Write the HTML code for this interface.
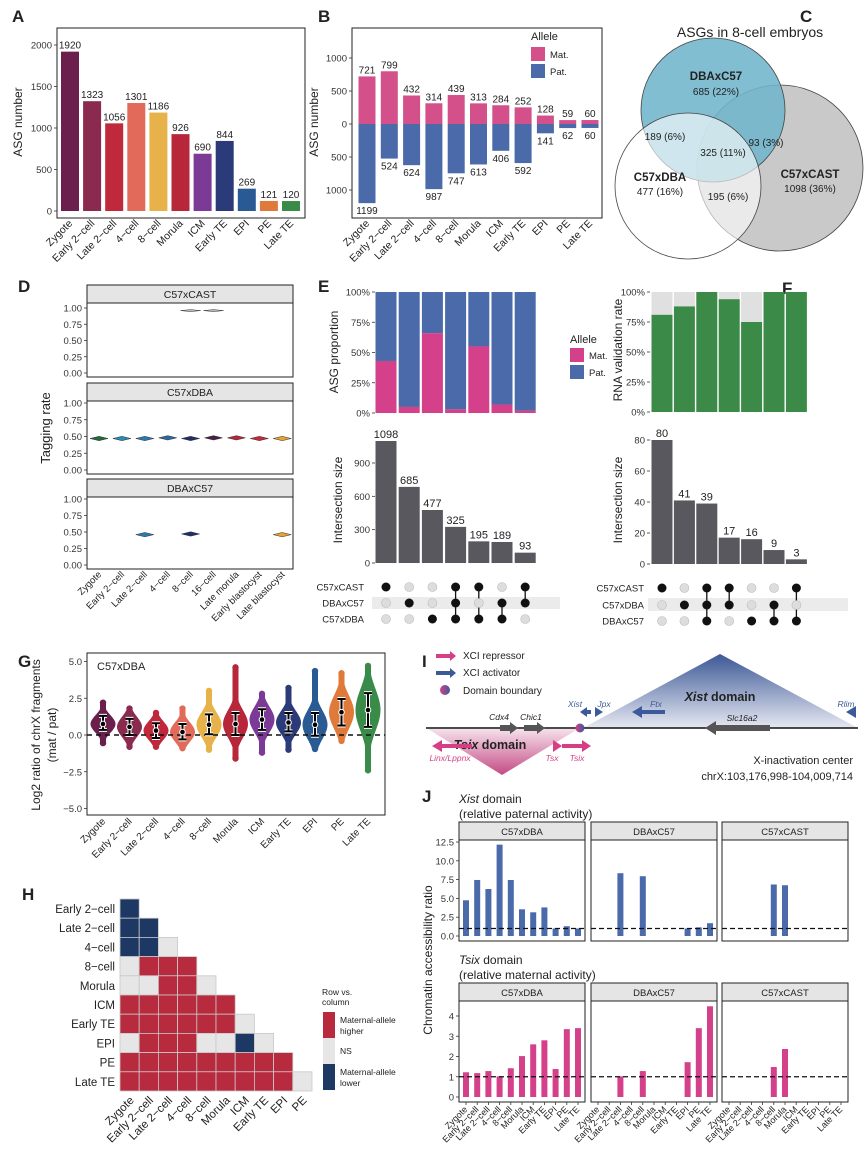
<!DOCTYPE html>
<html><head><meta charset="utf-8"><style>
html,body{margin:0;padding:0;background:#fff;}
svg{display:block;font-family:"Liberation Sans",sans-serif;}
</style></head><body>
<svg id="fig" width="865" height="1169" viewBox="0 0 865 1169" xmlns="http://www.w3.org/2000/svg">
<g font-weight="bold" font-size="17" fill="#222">
<text x="12" y="22">A</text>
<text x="318" y="22">B</text>
<text x="800" y="22">C</text>
<text x="18" y="292">D</text>
<text x="318" y="292">E</text>
<text x="782" y="294">F</text>
<text x="18" y="667">G</text>
<text x="22" y="900">H</text>
<text x="422" y="667">I</text>
<text x="422" y="802">J</text>
</g>
<!-- Venn C -->
<g>
<text x="750" y="37" font-size="14" text-anchor="middle" fill="#222">ASGs in 8-cell embryos</text>
<circle cx="780" cy="168" r="83" fill="#c9c9c9" stroke="#444" stroke-width="0.8"/>
<circle cx="713" cy="110" r="72" fill="#6fb5cb" fill-opacity="0.88" stroke="#444" stroke-width="0.8"/>
<circle cx="688" cy="186" r="73" fill="#ffffff" fill-opacity="0.62" stroke="#444" stroke-width="0.8"/>
<g font-size="10" fill="#222" text-anchor="middle">
<text x="716" y="80" font-weight="bold" font-size="11.5">DBAxC57</text><text x="716" y="95">685 (22%)</text>
<text x="810" y="178" font-weight="bold" font-size="11.5">C57xCAST</text><text x="810" y="192">1098 (36%)</text>
<text x="660" y="181" font-weight="bold" font-size="11.5">C57xDBA</text><text x="660" y="195">477 (16%)</text>
<text x="665" y="140">189 (6%)</text><text x="766" y="146">93 (3%)</text>
<text x="723" y="156">325 (11%)</text><text x="728" y="200">195 (6%)</text>
</g></g>
<!-- Panel I diagram -->
<g>
<defs>
<linearGradient id="gb" x1="0" y1="0" x2="0" y2="1"><stop offset="0" stop-color="#3c5896"/><stop offset="1" stop-color="#e6e8f2"/></linearGradient>
<linearGradient id="gp" x1="0" y1="0" x2="0" y2="1"><stop offset="0" stop-color="#f5e0ea"/><stop offset="1" stop-color="#c44a84"/></linearGradient>
<linearGradient id="gc" x1="0" y1="0" x2="1" y2="0"><stop offset="0" stop-color="#d63f86"/><stop offset="1" stop-color="#3c5a9a"/></linearGradient>
</defs>
<polygon points="583,728 720,654 858,728" fill="url(#gb)"/>
<polygon points="428,729 578,729 502,775" fill="url(#gp)"/>
<line x1="426" y1="728" x2="858" y2="728" stroke="#111" stroke-width="1.5"/>
<text x="720" y="701" font-size="12.5" font-weight="bold" text-anchor="middle" fill="#222"><tspan font-style="italic">Xist</tspan> domain</text>
<text x="490" y="749" font-size="12.5" font-weight="bold" text-anchor="middle" fill="#222"><tspan font-style="italic">Tsix</tspan> domain</text>
<g fill="#3c5a9a">
<polygon points="436,671 450,671 450,668 456,673 450,678 450,675 436,675"/>
<polygon points="580,712 587,707 587,710 591,710 591,714 587,714 587,717"/>
<polygon points="595,707 603,712 595,717"/>
<polygon points="632,712 642,706 642,710 665,710 665,714 642,714 642,718"/>
<polygon points="846,712 856,706 856,718"/>
</g>
<polygon points="436,654 450,654 450,651 456,656 450,661 450,658 436,658" fill="#d63f86"/>
<circle cx="445" cy="690" r="5" fill="url(#gc)"/>
<g font-size="10" fill="#222"><text x="463" y="659">XCI repressor</text><text x="463" y="676">XCI activator</text><text x="463" y="694">Domain boundary</text></g>
<g fill="#555">
<polygon points="500,725 510,725 510,722 518,728 510,734 510,731 500,731"/>
<polygon points="524,725 537,725 537,722 545,728 537,734 537,731 524,731"/>
<polygon points="705,728 716,721 716,725 770,725 770,731 716,731 716,735"/>
</g>
<g fill="#d63f86">
<polygon points="432,746 442,740 442,744 472,744 472,748 442,748 442,752"/>
<polygon points="553,740 562,746 553,752"/>
<polygon points="562,744 582,744 582,740 591,746 582,752 582,748 562,748"/>
</g>
<circle cx="580" cy="728" r="4.5" fill="url(#gc)"/>
<g font-size="8.5" font-style="italic">
<text x="499" y="720" fill="#222" text-anchor="middle">Cdx4</text><text x="531" y="720" fill="#222" text-anchor="middle">Chic1</text>
<text x="742" y="721" fill="#222" text-anchor="middle">Slc16a2</text>
<text x="575" y="707" fill="#3c5a9a" text-anchor="middle">Xist</text><text x="604" y="707" fill="#3c5a9a" text-anchor="middle">Jpx</text>
<text x="656" y="707" fill="#3c5a9a" text-anchor="middle">Ftx</text><text x="846" y="707" fill="#3c5a9a" text-anchor="middle">Rlim</text>
<text x="450" y="761" fill="#d63f86" text-anchor="middle">Linx/Lppnx</text><text x="552" y="761" fill="#d63f86" text-anchor="middle">Tsx</text>
<text x="577" y="761" fill="#d63f86" text-anchor="middle">Tsix</text>
</g>
<g font-size="11" fill="#222" text-anchor="end"><text x="853" y="764">X-inactivation center</text><text x="853" y="780">chrX:103,176,998-104,009,714</text></g>
</g>
<g font-size="12" fill="#222">
<text x="459" y="803"><tspan font-style="italic">Xist</tspan> domain</text>
<text x="459" y="818">(relative paternal activity)</text>
<text x="459" y="964"><tspan font-style="italic">Tsix</tspan> domain</text>
<text x="459" y="979">(relative maternal activity)</text>
</g>
</svg>
<script>
const NS='http://www.w3.org/2000/svg';
const svg=document.getElementById('fig');
function mk(tag,a,txt){const e=document.createElementNS(NS,tag);for(const k in a)e.setAttribute(k,a[k]);if(txt!=null)e.textContent=txt;svg.appendChild(e);return e;}
const TICK='#333';
function yTicks(x,vals,labs,yf,name){vals.forEach((v,i)=>{const y=yf(v);
const t=mk('line',{x1:x-3,y1:y,x2:x,y2:y,stroke:TICK,'stroke-width':0.8});


const l=mk('text',{x:x-5,y:y+3.5,'font-size':9.5,'text-anchor':'end',fill:'#333'},labs[i]);

});}
function xLabels(xs,labs,y,fs,name){labs.forEach((s,i)=>{const x=xs[i]+3;
const l=mk('text',{x:x,y:y,'font-size':fs,'text-anchor':'end',fill:'#222',transform:`rotate(-45 ${x} ${y})`},s);

});}
function box(x,y,w,h,name){const r=mk('rect',{x:x,y:y,width:w,height:h,fill:'none',stroke:'#222','stroke-width':1});

}
function ytitle(x,y,s,fs,name){const t=mk('text',{x:x,y:y,'font-size':fs,'text-anchor':'middle',fill:'#222',transform:`rotate(-90 ${x} ${y})`},s);

}

// ===== Panel A data
const stagesA=['Zygote','Early 2\u2212cell','Late 2\u2212cell','4\u2212cell','8\u2212cell','Morula','ICM','Early TE','EPI','PE','Late TE'];
const asgCounts=[1920,1323,1056,1301,1186,926,690,844,269,121,120];
const stageColors=['#6a1f4c','#8a2a4f','#c0283c','#e26a5a','#e8b24a','#b8263a','#7b3a96','#2b3a78','#2a5a94','#e07a3a','#3a8a4a'];
const aTicks=[0,500,1000,1500,2000];
// ===== Panel B data
const matCounts=[721,799,432,314,439,313,284,252,128,59,60];
const patCounts=[1199,524,624,987,747,613,406,592,141,62,60];
const bTicks=[-1000,-500,0,500,1000];
const bTickLabels=['1000','500','0','500','1000'];
// ===== Panel D data
const stagesD=['Zygote','Early 2\u2212cell','Late 2\u2212cell','4\u2212cell','8\u2212cell','16\u2212cell','Late morula','Early blastocyst','Late blastocyst'];
const dFacets=['C57xCAST','C57xDBA','DBAxC57'];
const tagCAST=[null,null,null,null,0.96,0.96,null,null,null];
const tagC57xDBA=[0.47,0.47,0.47,0.48,0.47,0.48,0.48,0.47,0.47];
const tagDBAxC57=[null,null,0.46,null,0.47,null,null,null,0.46];
const dColors=['#1f6b3a','#2a8cb5','#2a7ab0','#2a6aa0','#1e2e6a','#4a1e4a','#b8263a','#c8283c','#e8a030'];
const dTicks=[0,0.25,0.5,0.75,1];
const dTickLabels=['0.00','0.25','0.50','0.75','1.00'];
// ===== Panel E data
const eSizes=[1098,685,477,325,195,189,93];
const eMatFrac=[0.43,0.05,0.66,0.03,0.55,0.07,0.02];
const eSets=['C57xCAST','DBAxC57','C57xDBA'];
const eMembership=[[1,0,0],[0,1,0],[0,0,1],[1,1,1],[1,0,1],[0,1,1],[1,1,0]];
const eTicks=[0,300,600,900];
const pctTicks=[0,0.25,0.5,0.75,1];
const pctLabels=['0%','25%','50%','75%','100%'];
// ===== Panel F data
const fSizes=[80,41,39,17,16,9,3];
const fValidFrac=[0.81,0.88,1.0,0.94,0.75,1.0,1.0];
const fSets=['C57xCAST','C57xDBA','DBAxC57'];
const fMembership=[[1,0,0],[0,1,0],[1,1,1],[1,1,0],[0,0,1],[0,1,1],[1,0,1]];
const fTicks=[0,20,40,60,80];
// ===== Panel G data
const gMean=[0.75,0.55,0.3,0.2,0.7,0.75,1.05,0.85,0.7,1.55,1.7];
const gLow=[0.35,0.0,-0.2,-0.3,0.05,0.0,0.35,0.25,-0.05,0.65,0.55];
const gHigh=[1.3,1.1,0.8,0.75,1.4,1.5,1.75,1.5,1.5,2.45,2.85];
const gMin=[-0.55,-0.8,-0.8,-0.9,-1.0,-1.6,-1.2,-1.0,-0.95,-0.4,-2.4];
const gMax=[2.2,1.8,1.5,1.8,3.0,4.6,2.8,3.2,4.35,4.2,4.7];
const gTicks=[-5,-2.5,0,2.5,5];
const gTickLabels=['\u22125.0','\u22122.5','0.0','2.5','5.0'];
// ===== Panel H data
const hRows=['Early 2\u2212cell','Late 2\u2212cell','4\u2212cell','8\u2212cell','Morula','ICM','Early TE','EPI','PE','Late TE'];
const hCols=['Zygote','Early 2\u2212cell','Late 2\u2212cell','4\u2212cell','8\u2212cell','Morula','ICM','Early TE','EPI','PE'];
const hMatrix=['B','BB','BBN','NRRR','NNRRN','RRRRRR','RRRRRRN','NRRRNNBN','RRRRRRRRR','RRRRRRRRRN'];
// ===== Panel J data
const jFacets=['C57xDBA','DBAxC57','C57xCAST'];
const xistC57xDBA=[4.75,7.45,6.25,12.15,7.45,3.55,3.15,3.8,1.0,1.3,1.0];
const xistDBAxC57=[null,null,8.35,null,7.95,null,null,null,1.0,1.15,1.7];
const xistC57xCAST=[null,null,null,null,6.85,6.75,null,null,null,null,null];
const tsixC57xDBA=[1.22,1.18,1.28,1.02,1.42,2.02,2.6,2.8,1.38,3.35,3.4];
const tsixDBAxC57=[null,null,1.02,null,1.28,null,null,null,1.72,3.4,4.48];
const tsixC57xCAST=[null,null,null,null,1.48,2.37,null,null,null,null,null];
const jXistTicks=[0,2.5,5,7.5,10,12.5];
const jXistLabels=['0.0','2.5','5.0','7.5','10.0','12.5'];
const jTsixTicks=[0,1,2,3,4];

// ---------- Panel A
{const yA=v=>211-v*(166/2000);const xA=i=>70+i*22.1;
box(57,28,248,190,'panel-a-frame');
yTicks(57,aTicks,aTicks.map(String),yA,'a-y');
ytitle(22,122,'ASG number',12,'a-y-title');
asgCounts.forEach((v,i)=>{const r=mk('rect',{x:xA(i)-9,y:yA(v),width:18,height:yA(0)-yA(v),fill:stageColors[i]});


const t=mk('text',{x:xA(i),y:yA(v)-3,'font-size':10,'text-anchor':'middle',fill:'#222'},String(v));

});
xLabels(stagesA.map((s,i)=>xA(i)),stagesA,224,10.5,'a-x');}
// ---------- Panel B
{const yB=v=>124-v*(66/1000);const xB=i=>367+i*22.3;
box(352,28,250,190,'panel-b-frame');
yTicks(352,bTicks,bTickLabels,yB,'b-y');
ytitle(318,122,'ASG number',12,'b-y-title');
matCounts.forEach((v,i)=>{const r=mk('rect',{x:xB(i)-8.5,y:yB(v),width:17,height:yB(0)-yB(v),fill:'#d4508b'});


const t=mk('text',{x:xB(i),y:yB(v)-3,'font-size':10,'text-anchor':'middle',fill:'#222'},String(v));

});
patCounts.forEach((v,i)=>{const r=mk('rect',{x:xB(i)-8.5,y:yB(0),width:17,height:yB(-v)-yB(0),fill:'#4a6aaa'});


const t=mk('text',{x:xB(i),y:yB(-v)+11,'font-size':10,'text-anchor':'middle',fill:'#222'},String(v));

});
xLabels(stagesA.map((s,i)=>xB(i)),stagesA,224,10.5,'b-x');
const lg=mk('text',{x:531,y:40,'font-size':11,fill:'#222'},'Allele');


[['Mat.','#d4508b'],['Pat.','#4a6aaa']].forEach((p,i)=>{const r=mk('rect',{x:531,y:47+i*17,width:14,height:14,fill:p[1]});


const t=mk('text',{x:550,y:58+i*17,'font-size':9.5,fill:'#222'},p[0]);

});}
// ---------- Panel D
{const xD=i=>99+i*22.9;const tops=[[285,308,373],[383,403,470],[479,499,565]];
const series=[tagCAST,tagC57xDBA,tagDBAxC57];
ytitle(50,428,'Tagging rate',13,'d-y-title');
dFacets.forEach((f,k)=>{const [st,y1,y0]=tops[k];const yD=v=>y0-v*(y0-y1);
const s=mk('rect',{x:87,y:st,width:206,height:18,fill:'#e5e5e5',stroke:'#222','stroke-width':1});


const st2=mk('text',{x:190,y:st+13,'font-size':10.5,'text-anchor':'middle',fill:'#222'},f);


box(87,st+18,206,y0-st-14,'d-facet-frame');
yTicks(87,dTicks,dTickLabels,yD,'d-y');
series[k].forEach((v,i)=>{if(v==null)return;const y=yD(v),x=xD(i);const w=k==0?10:9,h=k==0?1:2.2;
const p=mk('polygon',{points:`${x-w},${y} ${x},${y-h} ${x+w},${y} ${x},${y+h}`,fill:k==0?'#bbb':dColors[i],stroke:'#333','stroke-width':0.5});

});});
xLabels(stagesD.map((s,i)=>xD(i)),stagesD,575,9.5,'d-x');}
// ---------- Panel E
{const xE=i=>386+i*23.2;const yP=v=>413-v*121;const yS=v=>563-v*(100/900);
yTicks(375,pctTicks,pctLabels,yP,'e-top-y');
ytitle(338,352,'ASG proportion',12,'e-top-y-title');
eMatFrac.forEach((m,i)=>{const r1=mk('rect',{x:xE(i)-10.5,y:yP(1),width:21,height:yP(m)-yP(1),fill:'#4a6aaa'});


const r2=mk('rect',{x:xE(i)-10.5,y:yP(m),width:21,height:yP(0)-yP(m),fill:'#d4408a'});

});
const lg=mk('text',{x:570,y:343,'font-size':11,fill:'#222'},'Allele');


[['Mat.','#d4408a'],['Pat.','#4a6aaa']].forEach((p,i)=>{const r=mk('rect',{x:570,y:348+i*17,width:14,height:14,fill:p[1]});


const t=mk('text',{x:589,y:359+i*17,'font-size':9.5,fill:'#222'},p[0]);

});
yTicks(375,eTicks,eTicks.map(String),yS,'e-bottom-y');
ytitle(342,500,'Intersection size',12,'e-bottom-y-title');
eSizes.forEach((v,i)=>{const r=mk('rect',{x:xE(i)-10.5,y:yS(v),width:21,height:yS(0)-yS(v),fill:'#58585e'});


const t=mk('text',{x:xE(i),y:yS(v)-3,'font-size':11,'text-anchor':'middle',fill:'#222'},String(v));

});
const rowsY=[587,603,619];
const band=mk('rect',{x:372,y:597,width:188,height:12,fill:'#ebebeb'});


eSets.forEach((s,j)=>{const t=mk('text',{x:364,y:rowsY[j]+3.5,'font-size':9.5,'text-anchor':'end',fill:'#222'},s);

});
eMembership.forEach((m,i)=>{const on=rowsY.filter((y,j)=>m[j]);if(on.length>1){const l=mk('line',{x1:xE(i),y1:on[0],x2:xE(i),y2:on[on.length-1],stroke:'#111','stroke-width':1.3});

}
m.forEach((b,j)=>{const c=mk('circle',{cx:xE(i),cy:rowsY[j],r:4.5,fill:b?'#111':'#ddd',stroke:b?'none':'#bbb','stroke-width':0.6});

});});}
// ---------- Panel F
{const xF=i=>662+i*22.4;const yP=v=>412-v*120;const yS=v=>564-v*(124/80);
yTicks(650,pctTicks,pctLabels,yP,'f-top-y');
ytitle(622,350,'RNA validation rate',12,'f-top-y-title');
fValidFrac.forEach((m,i)=>{const r1=mk('rect',{x:xF(i)-10.5,y:yP(1),width:21,height:yP(m)-yP(1),fill:'#e0e0e0'});


const r2=mk('rect',{x:xF(i)-10.5,y:yP(m),width:21,height:yP(0)-yP(m),fill:'#3b8a48'});

});
yTicks(650,fTicks,fTicks.map(String),yS,'f-bottom-y');
ytitle(622,500,'Intersection size',12,'f-bottom-y-title');
fSizes.forEach((v,i)=>{const r=mk('rect',{x:xF(i)-10.5,y:yS(v),width:21,height:yS(0)-yS(v),fill:'#58585e'});


const t=mk('text',{x:xF(i),y:yS(v)-3,'font-size':11,'text-anchor':'middle',fill:'#222'},String(v));

});
const rowsY=[588,605,621];
const band=mk('rect',{x:648,y:598,width:200,height:13,fill:'#ebebeb'});


fSets.forEach((s,j)=>{const t=mk('text',{x:644,y:rowsY[j]+3.5,'font-size':9.5,'text-anchor':'end',fill:'#222'},s);

});
fMembership.forEach((m,i)=>{const on=rowsY.filter((y,j)=>m[j]);if(on.length>1){const l=mk('line',{x1:xF(i),y1:on[0],x2:xF(i),y2:on[on.length-1],stroke:'#111','stroke-width':1.3});

}
m.forEach((b,j)=>{const c=mk('circle',{cx:xF(i),cy:rowsY[j],r:4.5,fill:b?'#111':'#ddd',stroke:b?'none':'#bbb','stroke-width':0.6});

});});}
// ---------- Panel G
{const xG=i=>103+i*26.5;const yG=v=>735-v*(73.5/5);
box(87,653,298,162,'panel-g-frame');
yTicks(87,gTicks,gTickLabels,yG,'g-y');
ytitle(40,735,'Log2 ratio of chrX fragments',12,'g-y-title');
ytitle(56,735,'(mat / pat)',12,'g-y-title-2');
const lab=mk('text',{x:97,y:670,'font-size':11,fill:'#222'},'C57xDBA');


gMean.forEach((m,i)=>{const x=xG(i);const sd=Math.max(0.45,(gHigh[i]-gLow[i])*0.62);const lo=gMin[i],hi=gMax[i];
const L=[],R=[];const n=40;for(let k=0;k<=n;k++){const v=lo+(hi-lo)*k/n;const w=Math.max(3,12.5*Math.exp(-((v-m)**2)/(2*sd*sd)));L.push(`${x-w},${yG(v)}`);R.unshift(`${x+w},${yG(v)}`);}
const p=mk('polygon',{points:L.concat(R).join(' '),fill:stageColors[i]});


[lo,hi].forEach(v=>{const c=mk('circle',{cx:x,cy:yG(v),r:3.2,fill:stageColors[i]});

});});
const dl=mk('line',{x1:87,y1:yG(0),x2:385,y2:yG(0),stroke:'#111','stroke-width':1.5,'stroke-dasharray':'5,4'});


gMean.forEach((m,i)=>{const x=xG(i);const y1=yG(gHigh[i]),y0=yG(gLow[i]);
const d=`M${x},${y1}V${y0}M${x-4},${y1}H${x+4}M${x-4},${y0}H${x+4}`;
const w=mk('path',{d:d,stroke:'#fff','stroke-width':4,fill:'none'});


const b=mk('path',{d:d,stroke:'#000','stroke-width':2,fill:'none'});


const c=mk('circle',{cx:x,cy:yG(m),r:2.8,fill:'#000',stroke:'#fff','stroke-width':1});

});
xLabels(stagesA.map((s,i)=>xG(i)),stagesA,822,10,'g-x');}
// ---------- Panel H
{const cs=19.2,x0=120,y0=899;const col={R:'#b82a3e',B:'#1e3864',N:'#e6e6e6'};
hMatrix.forEach((row,r)=>{const t=mk('text',{x:x0-5,y:y0+r*cs+14,'font-size':11.5,'text-anchor':'end',fill:'#222'},hRows[r]);


row.split('').forEach((v,c)=>{const q=mk('rect',{x:x0+c*cs,y:y0+r*cs,width:cs,height:cs,fill:col[v],stroke:'#c8c8c8','stroke-width':0.8});

});});
xLabels(hCols.map((s,i)=>x0+i*cs+cs/2+2),hCols,y0+10*cs+10,11.5,'h-x');
const lt=mk('text',{x:322,y:995,'font-size':8.5,fill:'#222'},'Row vs.');


const lt2=mk('text',{x:322,y:1005,'font-size':8.5,fill:'#222'},'column');


[['R','Maternal-allele','higher'],['N','NS',''],['B','Maternal-allele','lower']].forEach((p,i)=>{const y=1012+i*26;
const r=mk('rect',{x:323,y:y,width:12,height:26,fill:col[p[0]]});


const t=mk('text',{x:340,y:p[2]?y+11:y+16,'font-size':8.5,fill:'#222'},p[1]);


if(p[2]){const t2=mk('text',{x:340,y:y+22,'font-size':8.5,fill:'#222'},p[2]);

}});}
// ---------- Panel J
{const fx=[459,591,722],fw=126;
ytitle(432,960,'Chromatin accessibility ratio',12,'j-y-title');
const xist=[xistC57xDBA,xistDBAxC57,xistC57xCAST],tsix=[tsixC57xDBA,tsixDBAxC57,tsixC57xCAST];
function facetRow(data,st,y1,y0,ticks,labs,vmax,color,name){const yJ=v=>y0-v*(y0-y1)/vmax;
jFacets.forEach((f,k)=>{const X=fx[k];
const s=mk('rect',{x:X,y:st,width:fw,height:18,fill:'#e5e5e5',stroke:'#222','stroke-width':1});


const sl=mk('text',{x:X+fw/2,y:st+13,'font-size':9.5,'text-anchor':'middle',fill:'#222'},f);


const bot=y0+5;box(X,st+18,fw,bot-st-18,'j-facet-frame');
if(k==0)yTicks(X,ticks,labs,yJ,name+'-y');
const xJ=i=>X+7+i*11.2;
data[k].forEach((v,i)=>{if(v==null)return;const r=mk('rect',{x:xJ(i)-3,y:yJ(v),width:6,height:yJ(0)-yJ(v),fill:color});

});
const d=mk('line',{x1:X,y1:yJ(1),x2:X+fw,y2:yJ(1),stroke:'#111','stroke-width':1.2,'stroke-dasharray':'5,3'});


if(name=='tsix'){stagesA.forEach((s,i)=>{const tk=mk('line',{x1:xJ(i),y1:bot,x2:xJ(i),y2:bot+3,stroke:'#333','stroke-width':0.8});

});
xLabels(stagesA.map((s,i)=>xJ(i)-1),stagesA,bot+8,9,'j-x');}});}
facetRow(xist,822,842,936,jXistTicks,jXistLabels,12.5,'#4a6aaa','xist');
facetRow(tsix,983,1016,1097,jTsixTicks,jTsixTicks.map(String),4,'#d4408a','tsix');}
</script>
</body></html>
